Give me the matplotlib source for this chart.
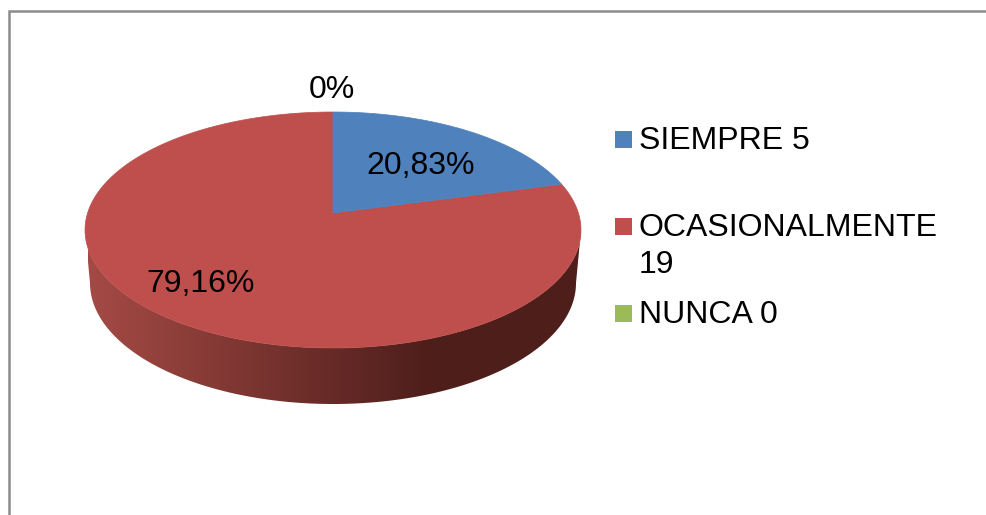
import numpy as np
import matplotlib
matplotlib.use("Agg")
import matplotlib.pyplot as plt
from matplotlib.patches import Polygon, Rectangle

labels = ["SIEMPRE 5", "OCASIONALMENTE\n19", "NUNCA 0"]
values = [5, 19, 0]
pct_labels = ["20,83%", "79,16%", "0%"]
colors = ["#4F81BD", "#BE4F4C", "#9BBB59"]

W, H = 987, 515
plt.rcParams["font.family"] = ["Liberation Sans", "DejaVu Sans"]


def top_xy(theta):
    # perspective of the pie disc, theta clockwise from 12 o'clock
    x, y = np.sin(theta), np.cos(theta)
    w = 1 + 0.144 * y
    return 333 + 245.4 * x / w, 230 - (118 * y + 17) / w


def wedge_poly(a0, a1):
    t = np.linspace(a0, a1, 200)
    sx, sy = top_xy(t)
    return np.column_stack([np.r_[333, sx], np.r_[213, sy]])


fig = plt.figure(figsize=(W / 100, H / 100), dpi=100)
ax = fig.add_axes([0, 0, 1, 1])
ax.axis("off")

# frame of the chart area, no right side in the crop
ax.plot([8.5, 8.5, W], [H, 10.5, 10.5], color="#8c8c8c", lw=1.8, solid_joinstyle="miter")

# side wall, lower half of the disc
t = np.linspace(-np.pi / 2, np.pi / 2, 300)
upper = np.column_stack([333 + 248 * np.sin(t), 230 + 118 * np.cos(t)])
lower = np.column_stack([333 + 243 * np.sin(t[::-1]), 283 + 121 * np.cos(t[::-1])])
side = Polygon(np.vstack([upper, lower]), closed=True, fc="none", ec="none")
ax.add_patch(side)
grad = np.linspace(0, 1, 256)
c0, c1 = np.array([0xA5, 0x4A, 0x45]) / 255, np.array([0x4E, 0x1E, 0x1B]) / 255
img = (c0[None, :] + (c1 - c0)[None, :] * grad[:, None])[None, :, :]
im = ax.imshow(img, extent=[88, 430, 404, 230], aspect="auto", zorder=1)
im.set_clip_path(side)
right = ax.imshow(img[:, -1:, :], extent=[430, 582, 404, 230], aspect="auto", zorder=1)
right.set_clip_path(side)
ax.set_xlim(0, W)
ax.set_ylim(H, 0)

# top faces
ang = np.cumsum([0] + values) / sum(values) * 2 * np.pi
for i in [1, 0]:
    ax.add_patch(Polygon(wedge_poly(ang[i], ang[i + 1]), closed=True, fc=colors[i], ec=colors[i], lw=0.5, zorder=2))

# percent labels
fs = 23
ax.text(421, 166.5, pct_labels[0], fontsize=fs, ha="center", va="center", zorder=3)
ax.text(201, 283.5, pct_labels[1], fontsize=fs, ha="center", va="center", zorder=3)
ax.text(332, 89.5, pct_labels[2], fontsize=fs, ha="center", va="center", zorder=3)

# legend
for lab, col, ys, yt in zip(labels, colors, [139.5, 226.5, 313.5], [141, 246.5, 315]):
    ax.add_patch(Rectangle((615, ys - 8.5), 17, 17, fc=col, ec="none", zorder=3))
    ax.text(639, yt, lab, fontsize=fs, ha="left", va="center", linespacing=1.28, zorder=3)

fig.savefig("out.png", dpi=100)
